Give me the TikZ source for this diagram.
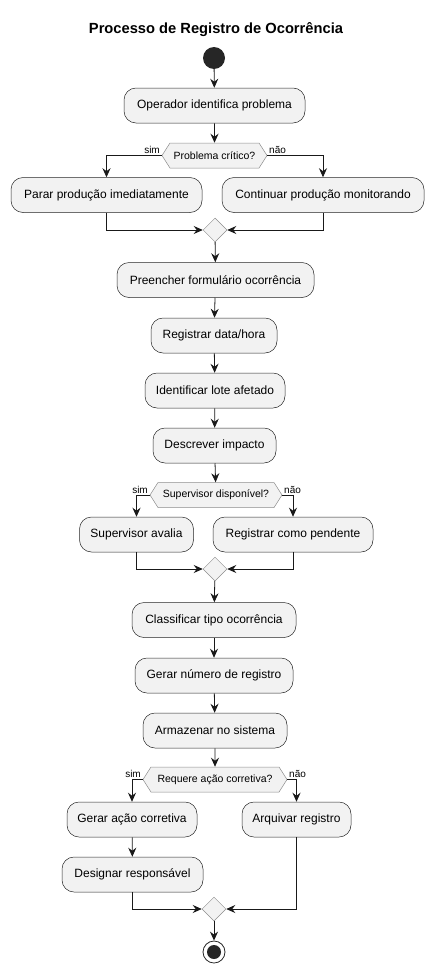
\documentclass[tikz,border=0pt]{standalone}
\usepackage{fontspec}
\setmainfont{Liberation Sans}
\usetikzlibrary{arrows.meta}
\usetikzlibrary{shapes.geometric, shapes.symbols}

\begin{document}
\begin{tikzpicture}[x=1pt, y=1pt, >={Stealth[length=9pt,width=8pt,inset=3pt]},
				   act/.style={draw=black!85, fill=black!5, rounded corners=12pt, minimum height=35pt, inner xsep=6pt, line width=0.5pt, font=\fontsize{12}{14}\selectfont},
				   cond/.style={signal, signal to=east and west, signal pointer angle=115, draw=black!45, fill=black!5, minimum height=25pt, inner xsep=2pt, line width=0.5pt, font=\fontsize{10.5}{12}\selectfont},
				   merge/.style={diamond, draw=black!45, fill=black!5, minimum size=24pt, inner sep=0pt, line width=0.5pt},
				   lbl/.style={font=\fontsize{10}{12}\selectfont, inner sep=1.5pt},
				   flow/.style={->, line width=0.8pt, draw=black!90}]
\useasboundingbox (0,0) rectangle (435,-974);
\node[font=\bfseries\fontsize{14.7}{17}\selectfont] (title) at (216,-30) {Processo de Registro de Ocorrência};
\node[circle, fill=black!85, minimum size=22pt, inner sep=0pt] (start) at (214,-58) {};
% ocorrencia
\node[act, minimum width=181] (op) at (214.5,-105.5) {Operador identifica problema};
\node[cond, minimum width=105] (critico) at (214.5,-155.5) {Problema crítico?};
\node[act, minimum width=191] (parar) at (106.5,-195) {Parar produção imediatamente};
\node[act, minimum width=202] (continuar) at (323,-195) {Continuar produção monitorando};
\node[merge] (m1) at (215,-230) {};
% formulario
\node[act, minimum width=197] (form) at (215.5,-280) {Preencher formulário ocorrência};
\node[act, minimum width=126] (data) at (214,-335.5) {Registrar data/hora};
\node[act, minimum width=140] (lote) at (215,-390.5) {Identificar lote afetado};
\node[act, minimum width=123] (impacto) at (214.5,-445.5) {Descrever impacto};
\node[cond, minimum width=132] (superv) at (216,-495) {Supervisor disponível?};
\node[act, minimum width=114] (avalia) at (136.5,-534.5) {Supervisor avalia};
\node[act, minimum width=160] (pendente) at (293,-534.5) {Registrar como pendente};
\node[merge] (m2) at (215,-569) {};
% registro
\node[act, minimum width=164] (tipo) at (214,-620) {Classificar tipo ocorrência};
\node[act, minimum width=158] (numero) at (214,-675.5) {Gerar número de registro};
\node[act, minimum width=144] (armazenar) at (215,-730.5) {Armazenar no sistema};
\node[cond, minimum width=144] (acao) at (215,-779.5) {Requere ação corretiva?};
\node[act, minimum width=130] (gerar) at (132,-819.5) {Gerar ação corretiva};
\node[act, minimum width=141] (designar) at (132.5,-874.5) {Designar responsável};
\node[act, minimum width=109] (arquivar) at (296.5,-819.5) {Arquivar registro};
\node[merge] (m3) at (214,-909) {};
\node[circle, draw=black!85, line width=0.8pt, fill=white, minimum size=22pt, inner sep=0pt] (stop) at (214,-952) {};
\node[circle, fill=black!85, minimum size=14pt, inner sep=0pt] (stopdot) at (stop) {};

\draw[flow] (start) -- (op);
\draw[flow] (op) -- (critico);
\draw[flow] (critico.west) node[lbl, above left] {sim} -| (parar.north);
\draw[flow] (critico.east) node[lbl, above right] {não} -| (continuar.north);
\draw[flow] (parar.south) |- (m1.west);
\draw[flow] (continuar.south) |- (m1.east);
\draw[flow] (m1) -- (form);
\draw[flow] (form) -- (data);
\draw[flow] (data) -- (lote);
\draw[flow] (lote) -- (impacto);
\draw[flow] (impacto) -- (superv);
\draw[flow] (superv.west) node[lbl, above left] {sim} -| (avalia.north);
\draw[flow] (superv.east) node[lbl, above right] {não} -| (pendente.north);
\draw[flow] (avalia.south) |- (m2.west);
\draw[flow] (pendente.south) |- (m2.east);
\draw[flow] (m2) -- (tipo);
\draw[flow] (tipo) -- (numero);
\draw[flow] (numero) -- (armazenar);
\draw[flow] (armazenar) -- (acao);
\draw[flow] (acao.west) node[lbl, above left] {sim} -| (gerar.north);
\draw[flow] (acao.east) node[lbl, above right] {não} -| (arquivar.north);
\draw[flow] (gerar) -- (designar);
\draw[flow] (designar.south) |- (m3.west);
\draw[flow] (arquivar.south) |- (m3.east);
\draw[flow] (m3) -- (stop);
\end{tikzpicture}
\end{document}
